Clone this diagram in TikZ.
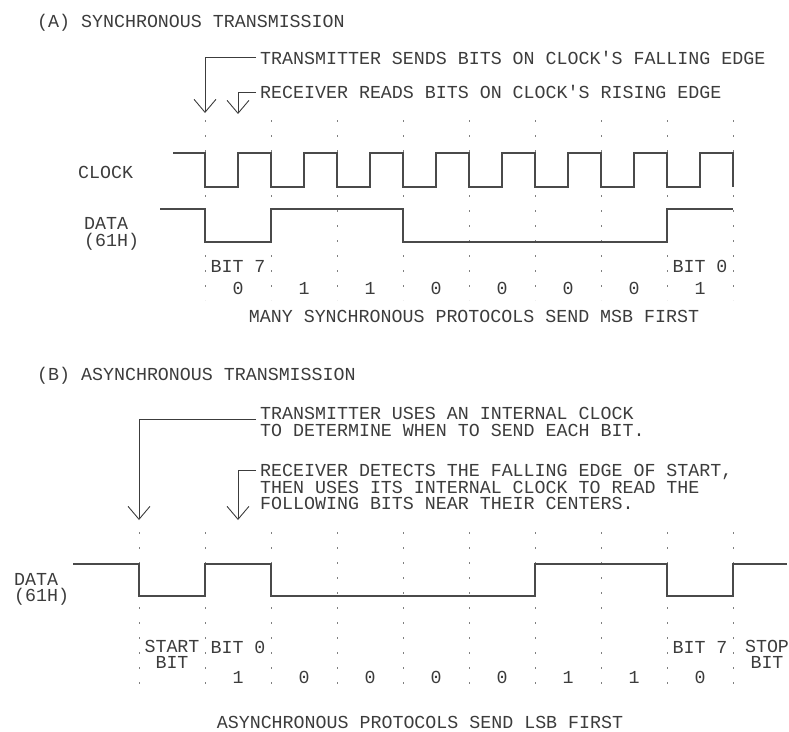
\documentclass[tikz,border=0pt]{standalone}
\usepackage{fontspec}
\setmonofont{Liberation Mono}
\usetikzlibrary{arrows.meta,positioning}
\definecolor{ink}{HTML}{3C3C3C}
\definecolor{wave}{HTML}{4A4A4A}
\definecolor{gridgray}{HTML}{808080}
\tikzset{
  lbl/.style={font=\ttfamily\fontsize{18.3}{16.5}\selectfont, text=ink, inner sep=0pt},
  note/.style={lbl, anchor=west, align=left, inner xsep=4pt},
  sig/.style={draw=wave, line width=1.4pt, line join=miter},
  tick/.style={draw=gridgray, line width=.8pt, dash pattern=on 2pt off 13pt},
  lead/.style={draw=ink, line width=.9pt, -{Straight Barb[length=13pt, width=22pt, line width=.9pt]}},
}
\begin{document}
\begin{tikzpicture}[x=1pt, y=-1pt]
\useasboundingbox (0,0) rectangle (789,731);
% (A) synchronous
\node[lbl, anchor=west] (ttla) at (37,23) {(A) SYNCHRONOUS TRANSMISSION};
\node[note] (a1) at (256,57.5) {TRANSMITTER SENDS BITS ON CLOCK'S FALLING EDGE};
\node[note] (a2) at (256,92) {RECEIVER READS BITS ON CLOCK'S RISING EDGE};
\coordinate (txa) at (205,113);
\coordinate (rxa) at (238,114);
\draw[lead] (a1.west) -| (txa);
\draw[lead] (a2.west) -| (rxa);
\foreach \i in {0,...,8}
  \draw[tick] (205+66*\i,120) -- (205+66*\i,300);
\node[lbl, anchor=west] (clka) at (78,172) {CLOCK};
\node[lbl, anchor=west, align=left] (dtaa) at (84,234) {DATA\\(61H)};
\draw[sig] (173,153) foreach \i in {0,...,7} { -- (205+66*\i,153) -- (205+66*\i,187) -- (238+66*\i,187) -- (238+66*\i,153) } -- (733,153) -- (733,187);
\draw[sig] (160,209) -- (205,209) -- (205,242) -- (271,242) -- (271,209) -- (403,209) -- (403,242) -- (667,242) -- (667,209) -- (733,209);
\node[lbl] (b7a) at (238,266) {BIT 7};
\node[lbl] (b0a) at (700,266) {BIT 0};
\foreach \b [count=\i from 0] in {0,1,1,0,0,0,0,1}
  \node[lbl] (sa\i) at (238+66*\i,288) {\b};
\node[lbl] (capa) at (474,316) {MANY SYNCHRONOUS PROTOCOLS SEND MSB FIRST};
% (B) asynchronous
\node[lbl, anchor=west] (ttlb) at (37,376) {(B) ASYNCHRONOUS TRANSMISSION};
\node[note] (b1) at (256,422) {TRANSMITTER USES AN INTERNAL CLOCK\\TO DETERMINE WHEN TO SEND EACH BIT.};
\node[note] (b2) at (256,487) {RECEIVER DETECTS THE FALLING EDGE OF START,\\THEN USES ITS INTERNAL CLOCK TO READ THE\\FOLLOWING BITS NEAR THEIR CENTERS.};
\coordinate (txb) at (139,520);
\coordinate (rxb) at (238,520);
\draw[lead] ([yshift=3pt]b1.west) -| (txb);
\draw[lead] ([yshift=16.5pt]b2.west) -| (rxb);
\foreach \i in {0,...,9}
  \draw[tick] (139+66*\i,532) -- (139+66*\i,692);
\node[lbl, anchor=west, align=left] (dtab) at (14,589.5) {DATA\\(61H)};
\draw[sig] (73,564) -- (139,564) -- (139,596) -- (205,596) -- (205,564) -- (271,564) -- (271,596) -- (535,596) -- (535,564) -- (667,564) -- (667,596) -- (733,596) -- (733,564) -- (787,564);
\node[lbl, align=center] (stb) at (172,654.5) {START\\BIT};
\node[lbl] (b0b) at (238,647) {BIT 0};
\node[lbl] (b7b) at (700,647) {BIT 7};
\node[lbl, align=center] (spb) at (767,654.5) {STOP\\BIT};
\foreach \b [count=\i from 1] in {1,0,0,0,0,1,1,0}
  \node[lbl] (sb\i) at (172+66*\i,677) {\b};
\node[lbl] (capb) at (420,722) {ASYNCHRONOUS PROTOCOLS SEND LSB FIRST};
\end{tikzpicture}
\end{document}
